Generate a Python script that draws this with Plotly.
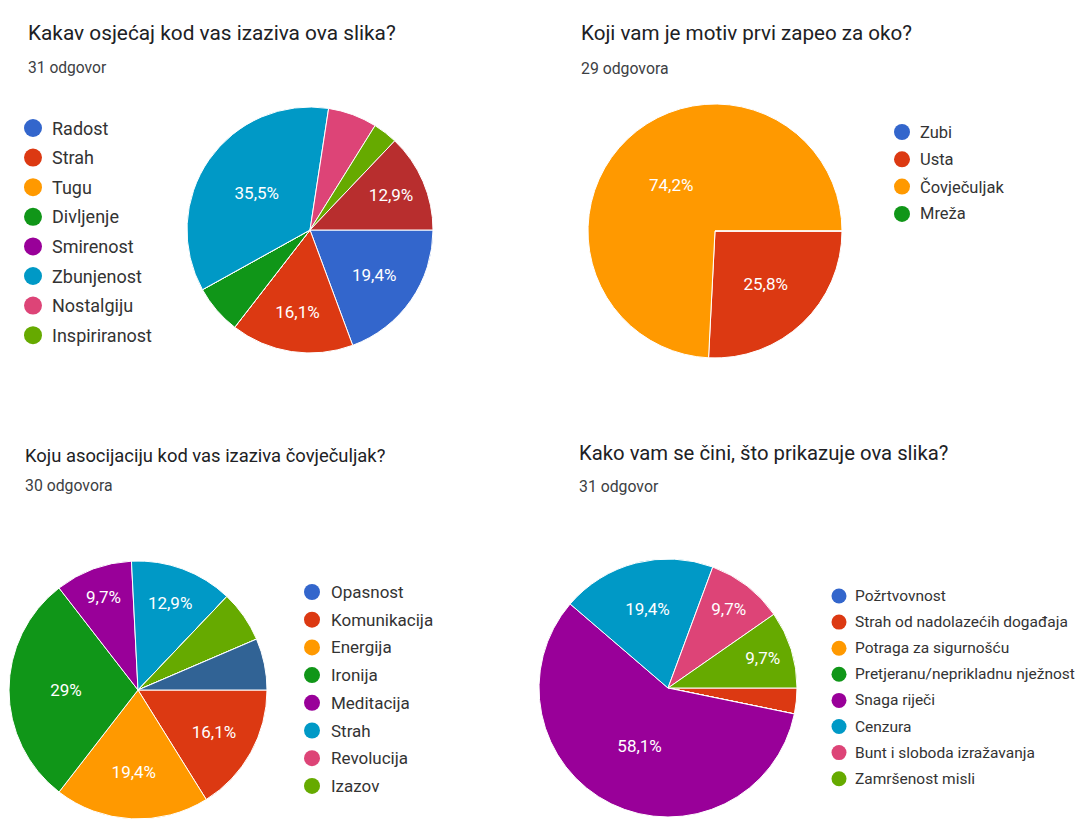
import plotly.graph_objects as go

W, H = 1079, 819

GCOL = ["#3366cc", "#dc3912", "#ff9900", "#109618", "#990099",
        "#0099c6", "#dd4477", "#66aa00", "#b82e2e", "#316395"]

# ---- data ----
titles = ["Kakav osjećaj kod vas izaziva ova slika?",
          "Koji vam je motiv prvi zapeo za oko?",
          "Koju asocijaciju kod vas izaziva čovječuljak?",
          "Kako vam se čini, što prikazuje ova slika?"]
subtitles = ["31 odgovor", "29 odgovora", "30 odgovora", "31 odgovor"]

labels1 = ["Radost", "Strah", "Tugu", "Divljenje", "Smirenost",
           "Zbunjenost", "Nostalgiju", "Inspiriranost", "Ostalo"]
values1 = [6, 5, 0, 2, 0, 11, 2, 1, 4]

labels2 = ["Zubi", "Usta", "Čovječuljak", "Mreža"]
values2 = [0, 8, 23, 0]

labels3 = ["Opasnost", "Komunikacija", "Energija", "Ironija", "Meditacija",
           "Strah", "Revolucija", "Izazov", "Ostalo2", "Ostalo"]
values3 = [0, 5, 6, 9, 3, 4, 0, 2, 0, 2]

labels4 = ["Požrtvovnost", "Strah od nadolazećih događaja", "Potraga za sigurnošću",
           "Pretjeranu/neprikladnu nježnost", "Snaga riječi", "Cenzura",
           "Bunt i sloboda izražavanja", "Zamršenost misli"]
values4 = [0, 1, 0, 0, 18, 6, 3, 3]

legend_counts = [8, 4, 8, 8]

# ---- layout parameters (pixels) ----
pies = [  # cx, cy, r
    (310, 230, 123),
    (715, 231, 127),
    (138, 690, 129),
    (668, 688, 129),
]
title_pos = [  # x, title y, subtitle y, title size, subtitle size
    (26, 33, 68, 20.8, 15.6),
    (579, 33, 68, 20.6, 15.8),
    (23, 455, 485, 18.4, 15.8),
    (577, 453, 486, 20.3, 15.8),
]
legends = [  # marker x, y0, dy, marker size, text x, font size
    (33, 128, 29.6, 18, 50, 18),
    (902, 132, 27.3, 16, 918, 16.5),
    (312, 592, 27.7, 16, 329, 17),
    (839, 596, 26.1, 15, 853, 15.5),
]


def pct_text(vals, thr=8.0):
    tot = sum(vals)
    out = []
    for v in vals:
        p = v / tot * 100
        if p < thr:
            out.append("")
        else:
            s = f"{p:.1f}"
            if s.endswith(".0"):
                s = s[:-2]
            out.append(s.replace(".", ",") + "%")
    return out


fig = go.Figure()

data = [(labels1, values1), (labels2, values2), (labels3, values3), (labels4, values4)]
for k, (labs, vals) in enumerate(data):
    cx, cy, r = pies[k]
    fig.add_trace(go.Pie(
        labels=labs, values=vals, sort=False, direction="clockwise", rotation=90,
        marker=dict(colors=GCOL[:len(labs)], line=dict(color="white", width=1)),
        text=pct_text(vals), textinfo="text", textposition="inside",
        insidetextorientation="horizontal",
        textfont=dict(family="Roboto", size=17, color="white"),
        domain=dict(x=[(cx - r) / W, (cx + r) / W],
                    y=[max(0, 1 - (cy + r) / H), 1 - (cy - r) / H]),
        showlegend=False, hoverinfo="label+percent",
    ))

annotations = []
for k, (labs, vals) in enumerate(data):
    mx, y0, dy, ms, tx, fs = legends[k]
    n = legend_counts[k]
    ys = [y0 + i * dy for i in range(n)]
    fig.add_trace(go.Scatter(
        x=[mx] * n, y=ys, mode="markers",
        marker=dict(size=ms, color=GCOL[:n]),
        xaxis="x", yaxis="y", showlegend=False, hoverinfo="skip",
    ))
    for i in range(n):
        annotations.append(dict(
            x=tx, y=ys[i], xref="x", yref="y", text=labs[i], showarrow=False,
            xanchor="left", yanchor="middle",
            font=dict(family="Roboto", size=fs, color="#333333"),
        ))
    tx0, ty, sy, tfs, sfs = title_pos[k]
    annotations.append(dict(
        x=tx0, y=ty, xref="x", yref="y", text=titles[k], showarrow=False,
        xanchor="left", yanchor="middle",
        font=dict(family="Roboto", size=tfs, color="#202124"),
    ))
    annotations.append(dict(
        x=tx0, y=sy, xref="x", yref="y", text=subtitles[k], showarrow=False,
        xanchor="left", yanchor="middle",
        font=dict(family="Roboto", size=sfs, color="#3c4043"),
    ))

fig.update_layout(
    width=W, height=H, margin=dict(l=0, r=0, t=0, b=0),
    paper_bgcolor="white", plot_bgcolor="rgba(0,0,0,0)",
    xaxis=dict(range=[0, W], visible=False, fixedrange=True, domain=[0, 1]),
    yaxis=dict(range=[H, 0], visible=False, fixedrange=True, domain=[0, 1]),
    annotations=annotations,
    font=dict(family="Roboto"),
)

fig.write_html("out.html", post_script="document.body.style.margin='0px';",
               config={"displayModeBar": False})
